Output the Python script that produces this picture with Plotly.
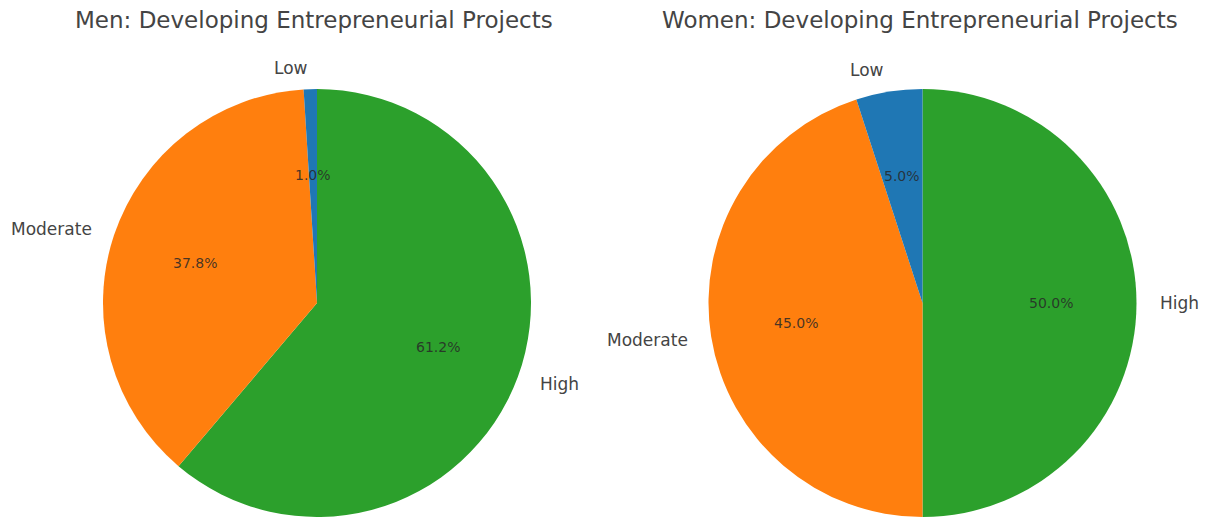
"""
Two pie charts: men vs women, developing entrepreneurial projects.
Matplotlib-style layout: labels outside, percentages inside at 0.6 r.
"""

import math
import plotly.graph_objects as go

categories = ["Low", "Moderate", "High"]
men_values = [1.0, 37.8, 61.2]
women_values = [5.0, 45.0, 50.0]
titles = ["Men: Developing Entrepreneurial Projects",
          "Women: Developing Entrepreneurial Projects"]
colors = ["#1f77b4", "#ff7f0e", "#2ca02c"]

W, H = 1208, 517
FONT = "DejaVu Sans"
TEXT = "#444444"

# pie domains in paper coords
domains = [
    dict(x=[103 / W, 531 / W], y=[0, 428 / H]),
    dict(x=[708 / W, 1137 / W], y=[0, 428 / H]),
]

fig = go.Figure()
annotations = []

for values, title, dom in zip([men_values, women_values], titles, domains):
    # matplotlib draws counterclockwise from 12 o'clock; the same result is
    # clockwise from 12 o'clock with the slice order reversed
    fig.add_trace(go.Pie(
        labels=categories[::-1],
        values=values[::-1],
        domain=dom,
        sort=False,
        direction="clockwise",
        rotation=0,
        marker=dict(colors=colors[::-1], line=dict(width=0)),
        textinfo="none",
        hoverinfo="label+percent",
        showlegend=False,
    ))

    # geometry in pixels, derived from the domain
    x0, x1 = dom["x"][0] * W, dom["x"][1] * W
    y0, y1 = (1 - dom["y"][1]) * H, (1 - dom["y"][0]) * H
    cx, cy = (x0 + x1) / 2, (y0 + y1) / 2
    r = min(x1 - x0, y1 - y0) / 2

    total = sum(values)
    cum = 0.0
    for label, v in zip(categories, values):
        a1 = 90 + 360 * cum / total
        cum += v
        a2 = 90 + 360 * cum / total
        mid = math.radians((a1 + a2) / 2)
        dx, dy = math.cos(mid), math.sin(mid)

        # percentage inside
        annotations.append(dict(
            x=(cx + 0.6 * r * dx) / W, y=1 - (cy - 0.6 * r * dy) / H,
            xref="paper", yref="paper", text=f"{100 * v / total:.1f}%",
            showarrow=False, xanchor="center", yanchor="middle",
            font=dict(family=FONT, size=14, color="rgba(40,40,40,0.85)"),
        ))
        # category label outside
        annotations.append(dict(
            x=(cx + 1.1 * r * dx) / W, y=1 - (cy - 1.1 * r * dy) / H,
            xref="paper", yref="paper", text=label,
            showarrow=False, xanchor="left" if dx > 0 else "right",
            yanchor="middle",
            font=dict(family=FONT, size=17, color=TEXT),
        ))

    annotations.append(dict(
        x=(cx - 3) / W, y=1 - 20 / H, xref="paper", yref="paper", text=title,
        showarrow=False, xanchor="center", yanchor="middle",
        font=dict(family=FONT, size=23, color=TEXT),
    ))

fig.update_layout(
    width=W,
    height=H,
    margin=dict(l=0, r=0, t=0, b=0),
    paper_bgcolor="white",
    plot_bgcolor="white",
    annotations=annotations,
)

fig.write_html("out.html", config={"displayModeBar": False},
               post_script="document.body.style.margin='0';")
